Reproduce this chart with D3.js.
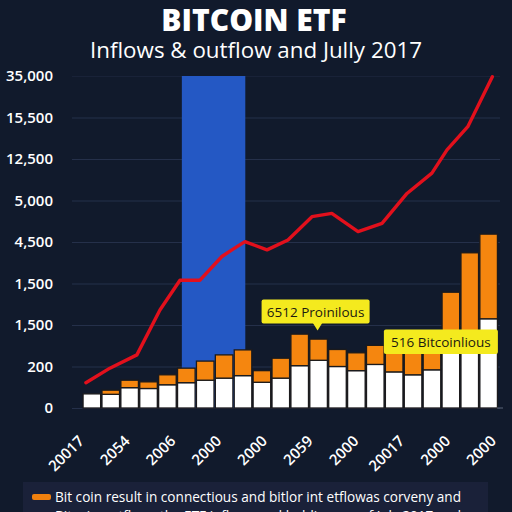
<!DOCTYPE html>
<html><head><meta charset="utf-8">
<script src="https://cdn.jsdelivr.net/npm/d3@7"></script>
<style>html,body{margin:0;padding:0;background:#111a2c;}svg{display:block;}</style>
</head><body>
<script>
// ---- data ----
const yTickLabels = ["0","200","1,500","1,500","4,500","5,000","12,500","15,500","35,000"];
const xTickLabels = ["20017","2054","2006","2000","2000","2059","2000","20017","2000","2000"];
const barIndex = d3.range(22);
const inflowVals  = [0.34,0.33,0.49,0.47,0.56,0.61,0.67,0.72,0.78,0.62,0.72,1.02,1.15,1.00,0.90,1.05,0.87,0.80,0.92,1.45,1.52,2.15];
const outflowVals = [0.00,0.10,0.18,0.16,0.24,0.35,0.46,0.56,0.62,0.28,0.48,0.76,0.51,0.41,0.43,0.46,0.82,0.79,0.72,1.34,2.22,2.04];
const lineX = [0.18,1.45,2.88,4.1,5.16,6.22,7.38,7.91,8.6,9.77,10.88,12.15,13.2,14.59,15.86,17.18,18.5,19.3,20.4,21.7];
const lineY = [0.61,0.96,1.28,2.36,3.08,3.08,3.65,3.81,4.01,3.81,4.05,4.61,4.69,4.25,4.45,5.17,5.66,6.22,6.78,7.98];
const highlightSpan = [5.26, 8.62];
const highlightTop = 8;
const annotations = [
  {text:"6512 Proinilous", bar:12},
  {text:"516 Bitcoinlious", bar:16}
];
const legendItems = [
  {text:"Bit coin result in connectious and bitlor int etflowas corveny and", color:"#f0800e"},
  {text:"Bitcoin outflows the ETF inflows and holdings as of July 2017 and", color:"#d8d8e4"}
];

// ---- chart ----
const W = 512, H = 512;
const svg = d3.select("body").append("svg").attr("width", W).attr("height", H);
svg.append("rect").attr("width", W).attr("height", H).attr("fill", "#111a2c");

const y = d3.scaleLinear().domain([0, 8]).range([408, 76]);
const x = d3.scaleBand().domain(barIndex).range([82.5, 498]).paddingInner(0.07).paddingOuter(0.03);
const xl = d3.scaleLinear().domain([0, 22]).range([82.5, 498]);
const xp = d3.scalePoint().domain(d3.range(xTickLabels.length)).range([85, 497]);

// title
svg.append("text").attr("x", 254).attr("y", 31).attr("text-anchor", "middle")
  .attr("font-family", "'Open Sans', sans-serif").attr("font-weight", 800).attr("font-size", 30)
  .attr("fill", "#ffffff").text("BITCOIN ETF");
svg.append("text").attr("x", 256).attr("y", 58).attr("text-anchor", "middle")
  .attr("font-family", "'Open Sans', sans-serif").attr("font-size", 21)
  .attr("fill", "#ffffff").attr("textLength", 332).attr("lengthAdjust", "spacingAndGlyphs")
  .text("Inflows & outflow and Jully 2017");

// y axis with grid
const yAxis = svg.append("g").attr("transform", "translate(72,0)")
  .call(d3.axisLeft(y).tickValues(d3.range(9)).tickFormat(i => yTickLabels[i])
    .tickSizeInner(-428).tickSizeOuter(0).tickPadding(19));
yAxis.select(".domain").remove();
yAxis.selectAll(".tick line").attr("stroke", "#25304a").attr("stroke-width", 1.2)
  .filter(d => d === 8).attr("stroke-opacity", 0.4);
yAxis.selectAll(".tick text").attr("fill", "#ffffff")
  .attr("font-family", "'Open Sans', sans-serif").attr("font-weight", 600).attr("font-size", 15);

// highlight column
svg.append("rect").attr("x", xl(highlightSpan[0])).attr("width", xl(highlightSpan[1]) - xl(highlightSpan[0]))
  .attr("y", y(highlightTop)).attr("height", y(0) - y(highlightTop)).attr("fill", "#2458c4");

// stacked bars
const table = barIndex.map(i => ({i, inflow: inflowVals[i], outflow: outflowVals[i]}));
const stack = d3.stack().keys(["inflow", "outflow"])(table);
const colors = {inflow: "#ffffff", outflow: "#f5860f"};
svg.append("g").selectAll("g").data(stack).join("g")
  .attr("fill", s => colors[s.key])
  .selectAll("rect").data(s => s.filter(d => d[1] - d[0] > 0)).join("rect")
  .attr("x", d => x(d.data.i)).attr("width", x.bandwidth())
  .attr("y", d => y(d[1])).attr("height", d => y(d[0]) - y(d[1]))
  .attr("stroke", "#1b1a1c").attr("stroke-width", 1.3);

// baseline tick at right
svg.append("line").attr("x1", 497).attr("x2", 503).attr("y1", y(0)).attr("y2", y(0))
  .attr("stroke", "#5a6478").attr("stroke-width", 1);

// red line
const lineData = lineX.map((v, k) => [v, lineY[k]]);
svg.append("path").datum(lineData)
  .attr("d", d3.line().x(d => xl(d[0])).y(d => y(d[1])))
  .attr("fill", "none").attr("stroke", "#e2101c").attr("stroke-width", 3.4)
  .attr("stroke-linejoin", "round").attr("stroke-linecap", "round");

// annotations
function annot(a, bx, by, w, h, pointer) {
  const g = svg.append("g");
  if (pointer) {
    g.append("path").attr("d", `M${bx + w/2 + 1},${by + h - 1} l6,0 l-5,8 l-5,-8 Z`).attr("fill", "#f4ea1e");
  }
  g.append("rect").attr("x", bx).attr("y", by).attr("width", w).attr("height", h)
    .attr("rx", 2).attr("fill", "#f4ea1e");
  g.append("text").attr("x", bx + w/2).attr("y", by + h/2 + 5).attr("text-anchor", "middle")
    .attr("font-family", "'Open Sans', sans-serif").attr("font-size", 13.5).attr("fill", "#1c1a10")
    .text(a.text);
}
{
  const a = annotations[0];
  const cx = x(a.bar) + x.bandwidth()/2;
  annot(a, cx - 57, 299.5, 108, 24, true);
  const b = annotations[1];
  annot(b, x(b.bar) - 1.5, 329.5, 114, 24.5, false);
}

// x labels
svg.append("g").selectAll("text").data(xTickLabels).join("text")
  .attr("transform", (d, i) => `translate(${xp(i)},442) rotate(-45)`)
  .attr("text-anchor", "end")
  .attr("font-family", "'Open Sans', sans-serif").attr("font-weight", 600).attr("font-size", 15)
  .attr("fill", "#ffffff").text(d => d);

// legend
const lg = svg.append("g");
lg.append("rect").attr("x", 23).attr("y", 482).attr("width", 465).attr("height", 40).attr("fill", "#1a2139");
legendItems.forEach((it, k) => {
  const yy = 497 + k * 18;
  const fs = k === 0 ? 14 : 13;
  lg.append("rect").attr("x", 32).attr("y", yy - 3).attr("width", 19).attr("height", 6).attr("rx", 2).attr("fill", it.color);
  lg.append("text").attr("x", 55).attr("y", yy + 5).attr("font-family", "'Open Sans', sans-serif")
    .attr("font-weight", 500).attr("font-size", fs).attr("fill", "#ffffff")
    .attr("textLength", 406).attr("lengthAdjust", "spacingAndGlyphs").text(it.text);
});
</script>
</body></html>
